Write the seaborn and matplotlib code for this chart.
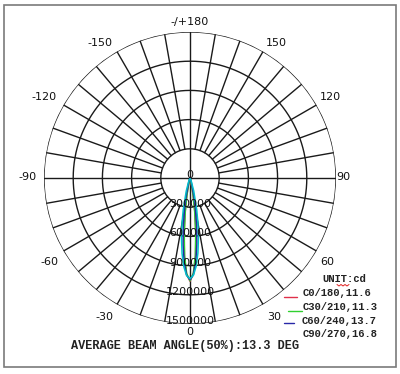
import numpy as np
import pandas as pd
import matplotlib
matplotlib.use("Agg")
import matplotlib.pyplot as plt
import matplotlib.transforms as mtransforms
from matplotlib.lines import Line2D
from matplotlib.patches import Rectangle
import seaborn as sns

# ---------------- data ----------------
angles_deg = [-24, -20, -16, -12, -10, -8, -6, -4, -2, 0, 2, 4, 6, 8, 10, 12, 16, 20, 24]
c0_180 = [0, 1500, 16000, 100000, 205000, 371000, 587000, 815000, 992000, 1060000,
          988000, 810000, 580000, 366000, 200000, 97000, 15000, 1400, 0]
c30_210 = [0, 1000, 13000, 88000, 188000, 349000, 567000, 801000, 984000, 1055000,
           980000, 796000, 562000, 345000, 185000, 86000, 12000, 1000, 0]
c60_240 = [1000, 9000, 51000, 192000, 322000, 492000, 684000, 865000, 997000, 1045000,
           994000, 860000, 679000, 488000, 318000, 189000, 50000, 9000, 1000]
c90_270 = [11000, 45000, 140000, 335000, 473000, 627000, 780000, 913000, 1003000, 1035000,
           1000000, 909000, 776000, 622000, 468000, 331000, 138000, 44000, 11000]

plane_names = ["C0/180", "C30/210", "C60/240", "C90/270"]
plane_beam = ["11.6", "11.3", "13.7", "16.8"]
plane_colors = ["#e0304a", "#30d030", "#2828a8", "#00c0c8"]

ring_values = [0, 300000, 600000, 900000, 1200000, 1500000]
ring_labels = ["0", "300000", "600000", "900000", "1200000", "1500000"]

angle_labels = ["-/+180", "-150", "150", "-120", "120", "-90", "90",
                "-60", "60", "-30", "30", "0"]
title_text = "AVERAGE BEAM ANGLE(50%):13.3 DEG"
unit_text = "UNIT:cd"

# ---------------- style ----------------
sns.set_theme(style="white")
plt.rcParams["font.family"] = ["DejaVu Sans"]

W, H = 400, 374
fig = plt.figure(figsize=(W / 100, H / 100), dpi=100)
fig.patch.set_facecolor("white")

cx, cy, R = 190, 178, 146
ax = fig.add_axes([(cx - R) / W, (H - cy - R) / H, 2 * R / W, 2 * R / H],
                  projection="polar")
ax.set_theta_zero_location("S")
ax.set_theta_direction(1)
ax.grid(False)
ax.set_xticks([])
ax.set_yticks([])
ax.spines["polar"].set_visible(False)
ax.patch.set_alpha(0)

grid_color = "#1a1a1a"
full = np.linspace(0, 2 * np.pi, 721)
for r in ring_values[1:]:
    ax.plot(full, np.full_like(full, r), color=grid_color, lw=1.0, zorder=1)
for a in range(0, 360, 10):
    th = np.deg2rad(a)
    start = 0 if a % 90 == 0 else ring_values[1]
    ax.plot([th, th], [start, ring_values[-1]], color=grid_color, lw=1.0, zorder=1)

# curves
frames = []
for name, vals in zip(plane_names, [c0_180, c30_210, c60_240, c90_270]):
    frames.append(pd.DataFrame({"theta": np.deg2rad(angles_deg), "r": vals, "plane": name}))
df = pd.concat(frames, ignore_index=True)
sns.lineplot(data=df, x="theta", y="r", hue="plane", hue_order=plane_names,
             palette=plane_colors, sort=False, estimator=None, legend=False,
             lw=1.1, ax=ax, zorder=3)
ax.set_xlabel("")
ax.set_ylabel("")
ax.set_ylim(0, ring_values[-1])
ax.set_xticks([])
ax.set_yticks([])

# radial labels
trans = mtransforms.offset_copy(ax.transData, fig=fig, x=0, y=3, units="dots")
for r, lab in zip(ring_values, ring_labels):
    ax.text(0, r, lab, transform=trans, ha="center", va="center",
            fontsize=8, color="#111111", zorder=5)

# angle labels (pixel positions)
def ftext(x, y, s, **kw):
    fig.text(x / W, 1 - y / H, s, **kw)

angle_pos = [(190, 22), (100, 43), (276, 43), (44, 97), (330, 97), (28, 177), (343, 177),
             (49, 262), (327, 262), (104, 317), (274, 317), (190, 332)]
for (x, y), lab in zip(angle_pos, angle_labels):
    ftext(x, y, lab, ha="center", va="center", fontsize=8, color="#111111")

# legend block
mono = ["Liberation Mono", "DejaVu Sans Mono"]
ftext(322, 279, unit_text, ha="left", va="center", fontsize=7.6,
      family=mono, weight="bold", color="#222222")
legend_y = [293, 307, 321, 334]
legend_x = [303, 303, 302, 303]
for name, bw, y, x in zip(plane_names, plane_beam, legend_y, legend_x):
    ftext(x, y, f"{name},{bw}", ha="left", va="center", fontsize=7.6,
          family=mono, weight="bold", color="#222222")
sample_lines = [(284, 297, 297), (288, 302, 311), (284, 294, 323)]
for (x1, x2, y), col in zip(sample_lines, plane_colors[:3]):
    fig.add_artist(Line2D([x1 / W, x2 / W], [1 - y / H, 1 - y / H],
                          color=col, lw=1.0, transform=fig.transFigure))
# squiggle under "cd"
zx = np.arange(337, 351, 2)
zy = [284.5 if i % 2 == 0 else 286 for i in range(len(zx))]
fig.add_artist(Line2D(zx / W, [1 - v / H for v in zy], color="#e02020", lw=0.7,
                      transform=fig.transFigure))

ftext(185, 346, title_text, ha="center", va="center", fontsize=8.6,
      family=mono, weight="bold", color="#222222")

# frame
fig.add_artist(Rectangle((4 / W, 1 - 367 / H), 392 / W, 362 / H, fill=False,
                         edgecolor="#7a7a7a", lw=1.2, transform=fig.transFigure))

fig.savefig("out.png", dpi=100, facecolor="white")
